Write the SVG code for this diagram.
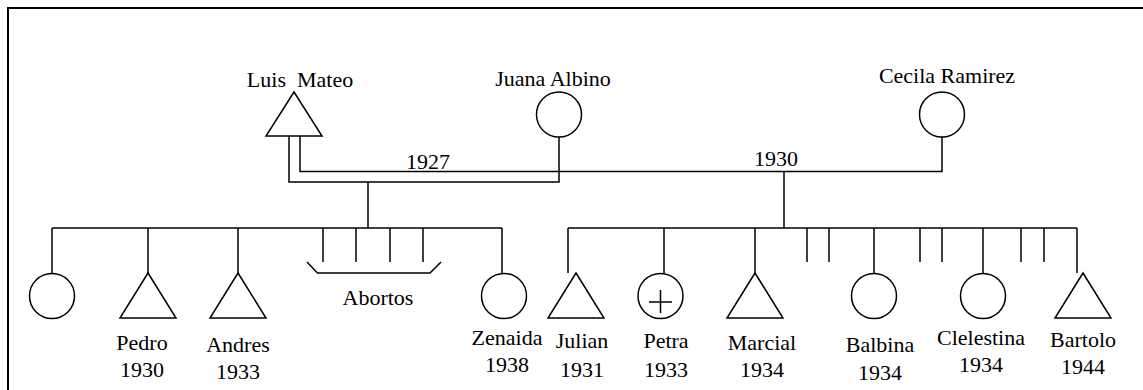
<svg xmlns="http://www.w3.org/2000/svg" width="1143" height="390" viewBox="0 0 1143 390" font-family="'Liberation Serif', 'Times New Roman', Times, serif">
  <style>
    .ln { fill: none; stroke: #000; stroke-width: 1.5; }
    .sym { fill: #fff; stroke: #000; stroke-width: 1.5; }
    text { font-family: 'Liberation Serif', 'Times New Roman', Times, serif; font-size: 22px; fill: #000; text-anchor: middle; }
  </style>
  <rect width="1143" height="390" fill="#fff"/>
  <!-- outer frame, running off the right and bottom edges -->
  <rect x="8" y="8" width="1200" height="500" fill="none" stroke="#000" stroke-width="2"/>

  <g id="connectors">
    <!-- marriage 1927: Luis Mateo - Juana Albino -->
    <polyline class="ln" points="289,136 289,182 559,182 559,137"/>
    <!-- marriage 1930: Luis Mateo - Cecila Ramirez -->
    <polyline class="ln" points="300,136 300,171.5 942,171.5 942,137"/>
    <!-- descent lines -->
    <line class="ln" x1="368" y1="182" x2="368" y2="228"/>
    <line class="ln" x1="784" y1="171.5" x2="784" y2="228"/>
    <!-- sibship lines -->
    <line class="ln" x1="52" y1="228" x2="502" y2="228"/>
    <line class="ln" x1="568" y1="228" x2="1077" y2="228"/>
    <!-- first family children -->
    <line class="ln" x1="52" y1="228" x2="52" y2="273"/>
    <line class="ln" x1="148" y1="228" x2="148" y2="273"/>
    <line class="ln" x1="238" y1="228" x2="238" y2="273"/>
    <line class="ln" x1="502" y1="228" x2="502" y2="273"/>
    <!-- abortions -->
    <line class="ln" x1="323" y1="228" x2="323" y2="262"/>
    <line class="ln" x1="356" y1="228" x2="356" y2="262"/>
    <line class="ln" x1="390" y1="228" x2="390" y2="262"/>
    <line class="ln" x1="423" y1="228" x2="423" y2="262"/>
    <polyline class="ln" points="307,262 317.5,273 430,273 441,262"/>
    <!-- second family children -->
    <line class="ln" x1="568" y1="228" x2="568" y2="273"/>
    <line class="ln" x1="664" y1="228" x2="664" y2="273"/>
    <line class="ln" x1="755" y1="228" x2="755" y2="273"/>
    <line class="ln" x1="807" y1="228" x2="807" y2="262"/>
    <line class="ln" x1="829" y1="228" x2="829" y2="262"/>
    <line class="ln" x1="874" y1="228" x2="874" y2="273"/>
    <line class="ln" x1="920" y1="228" x2="920" y2="262"/>
    <line class="ln" x1="942" y1="228" x2="942" y2="262"/>
    <line class="ln" x1="983" y1="228" x2="983" y2="273"/>
    <line class="ln" x1="1021" y1="228" x2="1021" y2="262"/>
    <line class="ln" x1="1044" y1="228" x2="1044" y2="262"/>
    <line class="ln" x1="1077" y1="228" x2="1077" y2="273"/>
    <text x="428" y="169">1927</text>
    <text x="776" y="166">1930</text>
  </g>

  <g id="luis-mateo">
    <polygon class="sym" points="294,92 322,136 266,136"/>
    <text x="300" y="87" xml:space="preserve">Luis  Mateo</text>
  </g>
  <g id="juana-albino">
    <circle class="sym" cx="559" cy="114.5" r="22.5"/>
    <text x="553" y="86">Juana Albino</text>
  </g>
  <g id="cecila-ramirez">
    <circle class="sym" cx="942" cy="114.5" r="22.5"/>
    <text x="947" y="83">Cecila Ramirez</text>
  </g>

  <g id="daughter-1">
    <circle class="sym" cx="52" cy="296" r="22.5"/>
  </g>
  <g id="pedro">
    <polygon class="sym" points="148,273 176,318 120,318"/>
    <text x="142" y="350">Pedro</text>
    <text x="142" y="377">1930</text>
  </g>
  <g id="andres">
    <polygon class="sym" points="238,273 266,318 210,318"/>
    <text x="238" y="352">Andres</text>
    <text x="238" y="379">1933</text>
  </g>
  <g id="abortos">
    <text x="378" y="305">Abortos</text>
  </g>
  <g id="zenaida">
    <circle class="sym" cx="504" cy="296" r="22.5"/>
    <text x="507" y="345">Zenaida</text>
    <text x="507" y="372">1938</text>
  </g>
  <g id="julian">
    <polygon class="sym" points="576,273 604,318 548,318"/>
    <text x="582" y="348">Julian</text>
    <text x="582" y="377">1931</text>
  </g>
  <g id="petra">
    <circle class="sym" cx="660.5" cy="296" r="22.5"/>
    <line class="ln" x1="649" y1="302" x2="672" y2="302"/>
    <line class="ln" x1="660.5" y1="290" x2="660.5" y2="313"/>
    <text x="666" y="348">Petra</text>
    <text x="666" y="377">1933</text>
  </g>
  <g id="marcial">
    <polygon class="sym" points="755,273 783,318 727,318"/>
    <text x="762" y="350">Marcial</text>
    <text x="762" y="377">1934</text>
  </g>
  <g id="balbina">
    <circle class="sym" cx="874" cy="296" r="22.5"/>
    <text x="880" y="352">Balbina</text>
    <text x="880" y="380">1934</text>
  </g>
  <g id="clelestina">
    <circle class="sym" cx="983" cy="296" r="22.5"/>
    <text x="981" y="345">Clelestina</text>
    <text x="981" y="372">1934</text>
  </g>
  <g id="bartolo">
    <polygon class="sym" points="1083,273 1111,318 1055,318"/>
    <text x="1083" y="347">Bartolo</text>
    <text x="1083" y="374">1944</text>
  </g>
</svg>
